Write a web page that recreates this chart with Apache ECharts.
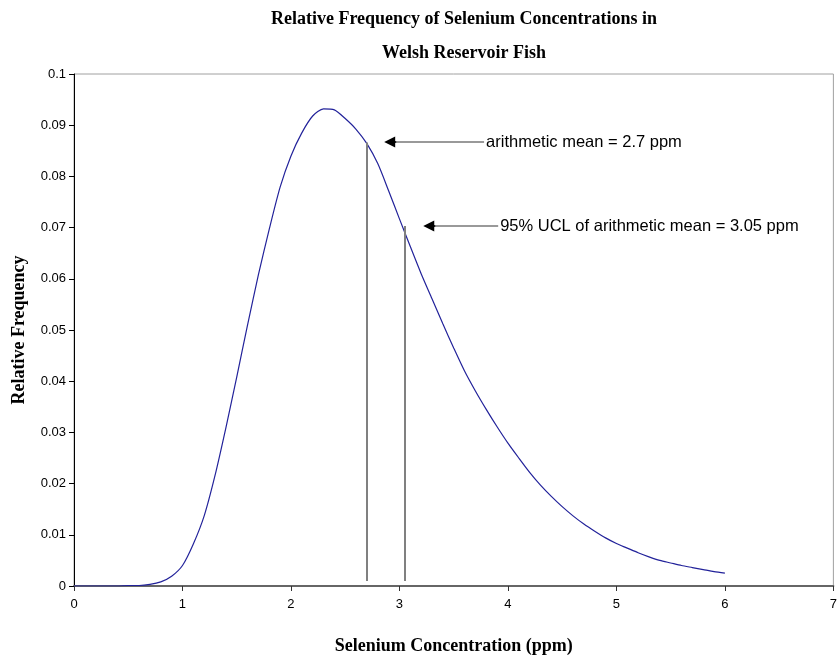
<!DOCTYPE html>
<html>
<head>
<meta charset="utf-8">
<title>Relative Frequency of Selenium Concentrations</title>
<script src="https://cdn.jsdelivr.net/npm/echarts@6/dist/echarts.min.js"></script>
<style>
  html, body { margin: 0; padding: 0; background: #fff; }
  #chart { width: 840px; height: 662px; }
</style>
</head>
<body>
<div id="chart"></div>
<script>
// concentration (ppm) and relative frequency
var concentration = [
  0, 0.1, 0.2, 0.3, 0.4, 0.5, 0.6, 0.7, 0.8, 0.9,
  1.0, 1.1, 1.2, 1.3, 1.4, 1.5, 1.6, 1.7, 1.8, 1.9,
  2.0, 2.1, 2.2, 2.3, 2.4, 2.5, 2.6, 2.7, 2.8, 2.9,
  3.0, 3.1, 3.2, 3.3, 3.4, 3.5, 3.6, 3.7, 3.8, 3.9,
  4.0, 4.1, 4.2, 4.3, 4.4, 4.5, 4.6, 4.7, 4.8, 4.9,
  5.0, 5.1, 5.2, 5.3, 5.4, 5.5, 5.6, 5.7, 5.8, 5.9, 6.0
];
var frequency = [
  0, 0, 0, 0, 0, 0.0001, 0.0001, 0.0003, 0.0008, 0.0019,
  0.0040, 0.0082, 0.0137, 0.0216, 0.0309, 0.0408, 0.0510, 0.0608, 0.0697, 0.0779,
  0.0840, 0.0885, 0.0918, 0.0932, 0.0930, 0.0913, 0.0892, 0.0864, 0.0825, 0.0772,
  0.0717, 0.0663, 0.0610, 0.0561, 0.0512, 0.0465, 0.0420, 0.0381, 0.0345, 0.0311,
  0.0279, 0.0250, 0.0222, 0.0197, 0.0175, 0.0155, 0.0137, 0.0121, 0.0107, 0.0094,
  0.0083, 0.0074, 0.0065, 0.0057, 0.0050, 0.0045, 0.0040, 0.0036, 0.0032, 0.0028, 0.0025
];

// vertical marker lines (mean, 95% UCL)
var markerX = [2.7, 3.05];
var markerTop = [0.0866, 0.0703];
var markerBottom = 0.001;

// arrows pointing at the marker lines
var arrowY = [0.0867, 0.0703];
var arrowTail = [3.78, 3.91];
var arrowTip = [2.91, 3.27];
var arrowText = ['arithmetic mean = 2.7 ppm', '95% UCL of arithmetic mean = 3.05 ppm'];

var xTicks = { min: 0, max: 7, interval: 1 };
var yTicks = { min: 0, max: 0.1, interval: 0.01 };

var serif = 'Liberation Serif, Times New Roman, serif';
var sans = 'Liberation Sans, Arial, sans-serif';

var curve = concentration.map(function (x, i) { return [x, frequency[i]]; });

var marks = [];
markerX.forEach(function (x, i) {
  marks.push([
    { coord: [x, markerBottom], symbol: 'none' },
    { coord: [x, markerTop[i]], symbol: 'none' }
  ]);
});
arrowY.forEach(function (y, i) {
  // grey shaft with the text at its tail
  marks.push([
    {
      coord: [arrowTail[i], y], symbol: 'none',
      lineStyle: { color: '#777', width: 1.5, type: 'solid' },
      label: {
        show: true, position: 'start', formatter: arrowText[i],
        color: '#000', fontSize: 16.5, fontFamily: sans, distance: 2
      }
    },
    { coord: [arrowTip[i] + 0.04, y], symbol: 'none' }
  ]);
  // black head
  marks.push([
    { coord: [arrowTip[i] + 0.06, y], symbol: 'none', lineStyle: { color: '#000', width: 1.5, type: 'solid' } },
    { coord: [arrowTip[i], y], symbol: 'triangle', symbolSize: [11, 11] }
  ]);
});

var chart = echarts.init(document.getElementById('chart'), null, { renderer: 'canvas' });
chart.setOption({
  animation: false,
  backgroundColor: '#fff',
  title: {
    text: 'Relative Frequency of Selenium Concentrations in\nWelsh Reservoir Fish',
    left: 464,
    top: 2,
    padding: 0,
    textAlign: 'center',
    textStyle: {
      fontFamily: serif,
      fontWeight: 'bold',
      fontSize: 18,
      lineHeight: 34,
      color: '#000'
    }
  },
  grid: {
    left: 74,
    top: 74,
    width: 762,
    height: 512,
    show: true,
    borderColor: '#a0a0a0',
    borderWidth: 1,
    containLabel: false
  },
  xAxis: {
    type: 'value',
    min: xTicks.min,
    max: xTicks.max,
    interval: xTicks.interval,
    name: 'Selenium Concentration (ppm)',
    nameLocation: 'middle',
    nameGap: 51,
    nameTextStyle: { fontFamily: serif, fontWeight: 'bold', fontSize: 18, color: '#000' },
    axisLine: { show: true, lineStyle: { color: '#666', width: 2 } },
    axisTick: { show: true, length: 5, lineStyle: { color: '#333' } },
    axisLabel: { fontSize: 13, color: '#000', fontFamily: sans, margin: 12 },
    splitLine: { show: false }
  },
  yAxis: {
    type: 'value',
    min: yTicks.min,
    max: yTicks.max,
    interval: yTicks.interval,
    name: 'Relative Frequency',
    nameLocation: 'middle',
    nameGap: 46,
    nameRotate: 90,
    nameTextStyle: { fontFamily: serif, fontWeight: 'bold', fontSize: 18, color: '#000' },
    axisLine: { show: true, lineStyle: { color: '#000', width: 1 } },
    axisTick: { show: true, length: 5, lineStyle: { color: '#000' } },
    axisLabel: { fontSize: 13, color: '#000', fontFamily: sans, margin: 8 },
    splitLine: { show: false }
  },
  series: [
    {
      name: 'Relative Frequency',
      type: 'line',
      data: curve,
      showSymbol: false,
      smooth: 0.25,
      lineStyle: { color: '#22229a', width: 1.2 },
      itemStyle: { color: '#22229a' },
      z: 3,
      markLine: {
        silent: true,
        symbol: 'none',
        animation: false,
        lineStyle: { color: '#808080', width: 2, type: 'solid' },
        label: { show: false },
        data: marks
      }
    }
  ]
});
</script>
</body>
</html>
